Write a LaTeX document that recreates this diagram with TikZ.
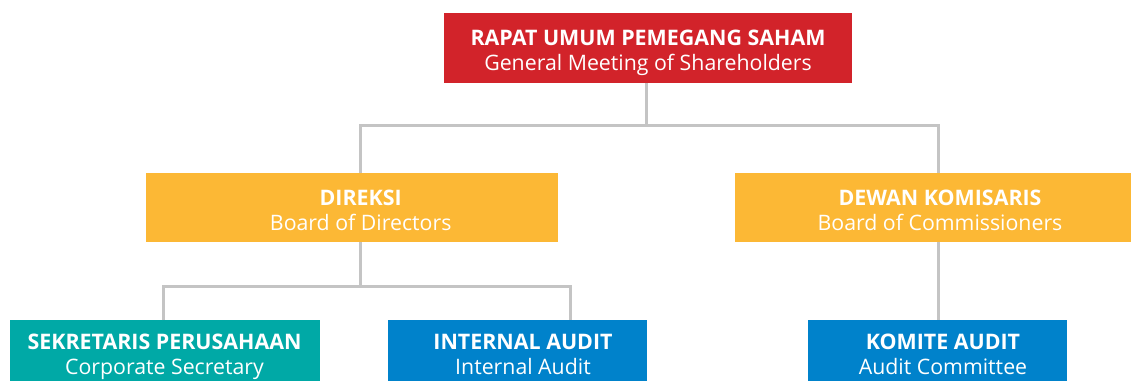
\documentclass[tikz,border=0pt]{standalone}
\usepackage{fontspec}
\setmainfont{Open Sans}
\definecolor{rupsred}{HTML}{D2232A}
\definecolor{boardorange}{HTML}{FCB835}
\definecolor{secteal}{HTML}{00A9A6}
\definecolor{auditblue}{HTML}{0082CB}
\definecolor{linegray}{HTML}{C4C4C4}
\tikzset{
  boxnode/.style={anchor=north west, inner sep=0pt, outer sep=0pt, draw=none},
  titletext/.style={anchor=base, inner sep=0pt, text=white, font=\fontsize{21.4}{26}\selectfont\bfseries},
  subtext/.style={anchor=base, inner sep=0pt, text=white, font=\fontsize{21.3}{26}\selectfont},
  conn/.style={draw=linegray, line width=3pt}
}
\begin{document}
\begin{tikzpicture}[x=1pt,y=-1pt]
\useasboundingbox (0,0) rectangle (1131,381);
% boxes
\node[boxnode, fill=rupsred, minimum width=408pt, minimum height=70pt] (rups) at (444,13) {};
\node[boxnode, fill=boardorange, minimum width=412pt, minimum height=69pt] (dir) at (146,173) {};
\node[boxnode, fill=boardorange, minimum width=397pt, minimum height=69pt] (dew) at (734.5,173) {};
\node[boxnode, fill=secteal, minimum width=310pt, minimum height=61pt] (sek) at (10,320) {};
\node[boxnode, fill=auditblue, minimum width=259pt, minimum height=61pt] (ia) at (388,320) {};
\node[boxnode, fill=auditblue, minimum width=259pt, minimum height=61pt] (kom) at (808,320) {};
% connector points
\coordinate (j1) at (646.5,125.5);
\coordinate (j2) at (360,286);
\coordinate (dirtop) at (360,173);
\coordinate (dirbot) at (360,242);
\coordinate (dewtop) at (938,173);
\coordinate (dewbot) at (938,242);
\coordinate (sektop) at (163,320);
\coordinate (iatop) at (570,320);
\coordinate (komtop) at (938,320);
% connectors
\draw[conn] (646.5,83) -- (j1);
\draw[conn] (dirtop) |- (j1) -| (dewtop);
\draw[conn] (dirbot) -- (j2);
\draw[conn] (sektop) |- (j2) -| (iatop);
\draw[conn] (dewbot) -- (komtop);
% texts
\node[titletext] (rupsA) at (648,45) {RAPAT UMUM PEMEGANG SAHAM};
\node[subtext] (rupsB) at (648,70.7) {General Meeting of Shareholders};
\node[titletext] (dirA) at (360.7,205) {DIREKSI};
\node[subtext] (dirB) at (360.7,230) {Board of Directors};
\node[titletext] (dewA) at (940,205) {DEWAN KOMISARIS};
\node[subtext] (dewB) at (940,230) {Board of Commissioners};
\node[titletext] (sekA) at (164.5,349) {SEKRETARIS PERUSAHAAN};
\node[subtext] (sekB) at (164.5,374.5) {Corporate Secretary};
\node[titletext] (iaA) at (523,349) {INTERNAL AUDIT};
\node[subtext] (iaB) at (523,374.5) {Internal Audit};
\node[titletext] (komA) at (943,349) {KOMITE AUDIT};
\node[subtext] (komB) at (943,374.5) {Audit Committee};
\end{tikzpicture}
\end{document}
